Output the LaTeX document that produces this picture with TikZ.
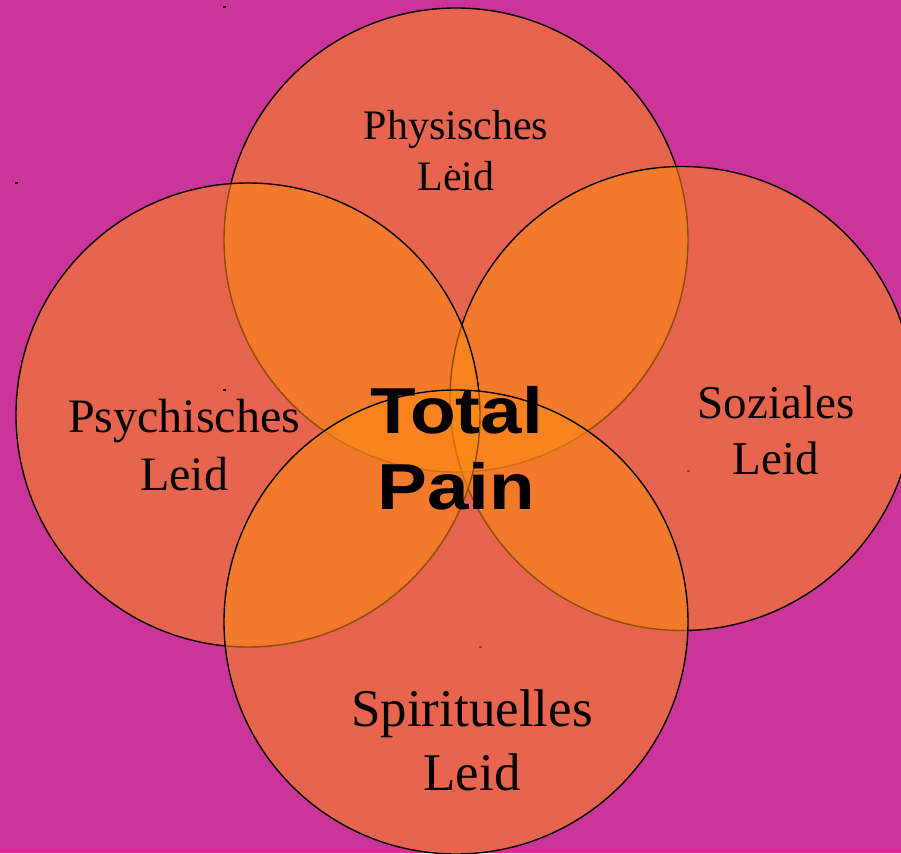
\documentclass[tikz,border=0pt]{standalone}
\usepackage{fontspec}
\usepackage{graphicx}
\newfontfamily\lserif{Liberation Serif}
\newfontfamily\lsans{Liberation Sans}
\newcommand{\widetxt}[1]{\scalebox{1.15}[1]{#1}}
\definecolor{bgmag}{RGB}{203,52,152}
\definecolor{orfill}{RGB}{254,140,18}
\tikzset{
  painring/.style={circle, draw=black, line width=1.4pt, fill=orfill, fill opacity=0.55, minimum size=464pt, inner sep=0pt, outer sep=0pt},
  marker/.style={fill=black},
  lbl/.style={anchor=base, inner sep=0pt, text=black, font=\lserif},
  bigtxt/.style={anchor=base, inner sep=0pt, text=black, font=\lsans\bfseries\fontsize{65}{65}\selectfont}
}
\begin{document}
\begin{tikzpicture}[x=1pt,y=-1pt]
\useasboundingbox (0,0) rectangle (901,853);
\fill[bgmag] (0,0) rectangle (901,853);
% top circle
\node[painring] (ctop) at (456,240) {};
\fill[marker] (223,6.5) rectangle (226,8.5);
\fill[marker] (687,469.5) rectangle (690,471.5);
% right circle
\node[painring] (cright) at (682,398.5) {};
\fill[marker] (449,166) rectangle (452,168);
% left circle
\node[painring] (cleft) at (248,415) {};
\fill[marker] (15,182) rectangle (18,184);
\fill[marker] (479,646) rectangle (482,648);
% bottom circle
\node[painring] (cbottom) at (456,622) {};
\fill[marker] (223,389) rectangle (226,391);
% labels
\node[lbl, font=\lserif\fontsize{42}{42}\selectfont] (phys1) at (456,140) {Physisches};
\node[lbl, font=\lserif\fontsize{42}{42}\selectfont] (phys2) at (456,190) {Leid};
\node[lbl, font=\lserif\fontsize{48}{48}\selectfont] (psy1) at (184,432) {Psychisches};
\node[lbl, font=\lserif\fontsize{48}{48}\selectfont] (psy2) at (184,490) {Leid};
\node[lbl, font=\lserif\fontsize{47}{47}\selectfont] (soz1) at (776,418) {Soziales};
\node[lbl, font=\lserif\fontsize{47}{47}\selectfont] (soz2) at (776,474) {Leid};
\node[lbl, font=\lserif\fontsize{53}{53}\selectfont] (spi1) at (472,726) {Spirituelles};
\node[lbl, font=\lserif\fontsize{53}{53}\selectfont] (spi2) at (472,790) {Leid};
\node[bigtxt] (tot1) at (456.5,433) {\widetxt{Total}};
\node[bigtxt] (tot2) at (456.5,509) {\widetxt{Pain}};
\end{tikzpicture}
\end{document}
